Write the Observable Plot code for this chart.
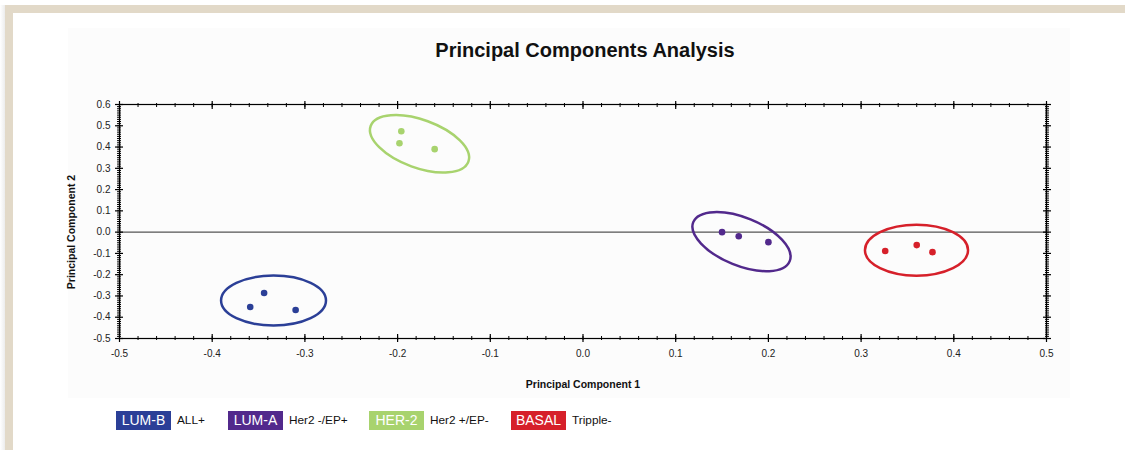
<!DOCTYPE html>
<html><head><meta charset="utf-8">
<script src="https://cdn.jsdelivr.net/npm/d3@7"></script>
<script src="https://cdn.jsdelivr.net/npm/@observablehq/plot@0.6"></script>
<style>
html,body{margin:0;padding:0;background:#fff;width:1125px;height:450px;overflow:hidden;font-family:"Liberation Sans",Arial,sans-serif;}
#shadow{position:absolute;left:0;top:5px;width:5px;height:445px;background:linear-gradient(to right,#fff,#ececec);}
#frameTop{position:absolute;left:5px;top:5px;width:1120px;height:8px;background:#e2d9c8;}
#frameLeft{position:absolute;left:5px;top:5px;width:8px;height:445px;background:#e2d9c8;}
#panel{position:absolute;left:68px;top:28px;width:1002px;height:370px;background:#fcfcfc;}
#chart{position:absolute;left:0;top:0;}
#chart svg{background:none;}
#title{position:absolute;left:385px;width:400px;top:40px;text-align:center;font-size:20px;line-height:20px;font-weight:bold;color:#111;}
#xlabel{position:absolute;left:483px;width:200px;top:378px;text-align:center;font-size:10.5px;line-height:12px;font-weight:bold;color:#111;}
#ylabel{position:absolute;left:-29px;width:200px;top:226px;height:12px;text-align:center;font-size:10.5px;line-height:12px;font-weight:bold;color:#111;transform:rotate(-90deg);transform-origin:100px 6px;}
.item{position:absolute;top:411px;height:18.5px;}
.box{position:absolute;left:0;top:0;width:55px;height:18.5px;line-height:18.5px;color:#fff;font-size:14px;text-align:center;}
.note{position:absolute;left:61px;top:0;line-height:18.5px;font-size:11.8px;color:#111;white-space:nowrap;}
</style>
</head><body>
<div id="shadow"></div>
<div id="frameTop"></div>
<div id="frameLeft"></div>
<div id="panel"></div>
<div id="chart"></div>
<div id="title">Principal Components Analysis</div>
<div id="xlabel">Principal Component 1</div>
<div id="ylabel">Principal Component 2</div>
<div id="legend"></div>
<script>
// ---- data ----
const groups = ["LUM-B", "LUM-A", "HER-2", "BASAL"];
const groupNotes = ["ALL+", "Her2 -/EP+", "Her2 +/EP-", "Tripple-"];
const groupColors = ["#2b3f97", "#52298c", "#a8d36e", "#d6202a"];

const pointGroup = ["LUM-B","LUM-B","LUM-B","HER-2","HER-2","HER-2","LUM-A","LUM-A","LUM-A","BASAL","BASAL","BASAL"];
const pc1 = [-0.359, -0.344, -0.310, -0.196, -0.198, -0.160, 0.150, 0.168, 0.200, 0.326, 0.360, 0.377];
const pc2 = [-0.352, -0.286, -0.366, 0.474, 0.418, 0.390, 0.000, -0.019, -0.047, -0.089, -0.061, -0.094];

// cluster ellipses (centre, semi-axes in PC units, tilt in degrees)
const ellipseGroup = ["LUM-B", "HER-2", "LUM-A", "BASAL"];
const ellipseCx = [-0.3333, -0.1758, 0.1715, 0.3603];
const ellipseCy = [-0.324, 0.413, -0.047, -0.087];
const ellipseRx = [0.0566, 0.0561, 0.0561, 0.0556];
const ellipseRy = [0.1175, 0.1128, 0.1128, 0.1199];
const ellipseAngle = [0, 20, 22, 0];

const xTicks = [-0.5, -0.4, -0.3, -0.2, -0.1, 0.0, 0.1, 0.2, 0.3, 0.4, 0.5];
const yTicks = [-0.5, -0.4, -0.3, -0.2, -0.1, 0.0, 0.1, 0.2, 0.3, 0.4, 0.5, 0.6];
const xMinor = d3.range(-25, 26).map(i => i / 50);
const yMinor = d3.range(-50, 61).map(i => i / 100);

// ---- build ----
const colorOf = Object.fromEntries(groups.map((g, i) => [g, groupColors[i]]));
const points = pc1.map((x, i) => ({pc1: x, pc2: pc2[i], group: pointGroup[i]}));

function ellipseMark(index, scales) {
  const ns = "http://www.w3.org/2000/svg";
  const g = document.createElementNS(ns, "g");
  ellipseCx.forEach((cx, i) => {
    const px = scales.x(cx), py = scales.y(ellipseCy[i]);
    const rx = Math.abs(scales.x(cx + ellipseRx[i]) - px);
    const ry = Math.abs(scales.y(ellipseCy[i]) - scales.y(ellipseCy[i] + ellipseRy[i]));
    const e = document.createElementNS(ns, "ellipse");
    e.setAttribute("cx", px); e.setAttribute("cy", py);
    e.setAttribute("rx", rx); e.setAttribute("ry", ry);
    e.setAttribute("transform", `rotate(${ellipseAngle[i]} ${px} ${py})`);
    e.setAttribute("fill", "none");
    e.setAttribute("stroke", colorOf[ellipseGroup[i]]);
    e.setAttribute("stroke-width", 2.5);
    g.appendChild(e);
  });
  return g;
}

const fmt = d => d.toFixed(1);
const plot = Plot.plot({
  width: 1125, height: 450,
  marginLeft: 119, marginRight: 79, marginTop: 104, marginBottom: 112,
  style: {fontFamily: "'Liberation Sans', Arial, sans-serif", fontSize: "10px", color: "#222", background: "none"},
  x: {domain: [-0.5, 0.5], label: null},
  y: {domain: [-0.5, 0.6], label: null},
  marks: [
    Plot.ruleY([0], {stroke: "#555", strokeWidth: 1.1}),
    ellipseMark,
    Plot.dot(points, {x: "pc1", y: "pc2", fill: d => colorOf[d.group], r: 3.3}),
    Plot.frame({stroke: "#000", strokeWidth: 1.2}),
    // bottom
    Plot.axisX(xTicks, {anchor: "bottom", tickSize: 0, tickPadding: 11, tickFormat: fmt, label: null}),
    Plot.axisX(xTicks, {anchor: "bottom", tickSize: 8, dy: -4, tickFormat: () => "", label: null, stroke: "#000", strokeWidth: 1.2}),
    Plot.axisX(xMinor, {anchor: "bottom", tickSize: 4, dy: -2, tickFormat: () => "", label: null, stroke: "#000"}),
    // top
    Plot.axisX(xTicks, {anchor: "top", tickSize: 8, dy: 4, tickFormat: () => "", label: null, stroke: "#000", strokeWidth: 1.2}),
    Plot.axisX(xMinor, {anchor: "top", tickSize: 4, dy: 2, tickFormat: () => "", label: null, stroke: "#000"}),
    // left
    Plot.axisY(yTicks, {anchor: "left", tickSize: 0, tickPadding: 9, tickFormat: fmt, label: null}),
    Plot.axisY(yTicks, {anchor: "left", tickSize: 8, dx: 4, tickFormat: () => "", label: null, stroke: "#000", strokeWidth: 1.2}),
    Plot.axisY(yMinor, {anchor: "left", tickSize: 4, dx: 2, tickFormat: () => "", label: null, stroke: "#000"}),
    // right
    Plot.axisY(yTicks, {anchor: "right", tickSize: 8, dx: -4, tickFormat: () => "", label: null, stroke: "#000", strokeWidth: 1.2}),
    Plot.axisY(yMinor, {anchor: "right", tickSize: 4, dx: -2, tickFormat: () => "", label: null, stroke: "#000"})
  ]
});
document.getElementById("chart").appendChild(plot);

// legend
const legendLeft = [116, 228, 369, 511];
const legend = document.getElementById("legend");
groups.forEach((g, i) => {
  const item = document.createElement("div");
  item.className = "item";
  item.style.left = legendLeft[i] + "px";
  const box = document.createElement("div");
  box.className = "box"; box.style.background = groupColors[i]; box.textContent = g;
  const note = document.createElement("div");
  note.className = "note"; note.textContent = groupNotes[i];
  item.appendChild(box); item.appendChild(note);
  legend.appendChild(item);
});
</script>
</body></html>
